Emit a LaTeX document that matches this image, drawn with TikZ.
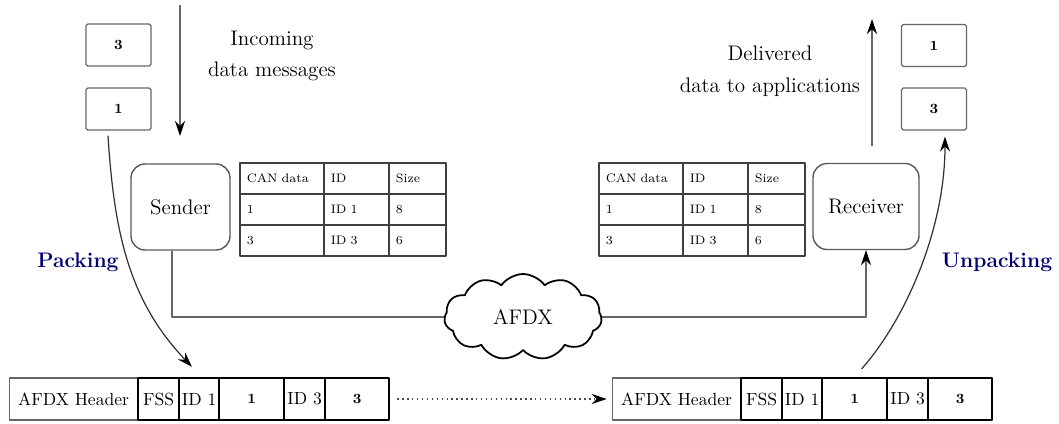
\documentclass[tikz,border=0pt]{standalone}
\usetikzlibrary{arrows.meta,shapes.symbols}
\begin{document}
\begin{tikzpicture}[x=0.02cm,y=-0.02cm,>={Stealth[length=3mm,width=2mm,color=black]},line join=round,
	every node/.style={font=\large},
	msgbox/.style={draw=black!60,line width=0.7pt,rounded corners=1pt,minimum width=1.3cm,minimum height=0.84cm,inner sep=0pt,font=\footnotesize\bfseries},
	endbox/.style={draw=black!65,line width=0.8pt,rounded corners=0.28cm,minimum height=1.72cm,inner sep=0pt},
	cell/.style={draw=black!75,line width=0.9pt,anchor=north west,minimum height=0.62cm,inner xsep=4pt,inner ysep=0pt,align=left,font=\scriptsize},
	hdr/.style={draw=black!60,line width=0.7pt},
	fld/.style={draw=black,line width=1.3pt},
	pay/.style={draw=black,line width=1.3pt,font=\footnotesize\bfseries},
	conn/.style={black!60,line width=0.8pt},
	side/.style={font=\large\bfseries,text=blue!45!black}]
	\useasboundingbox (0,0) rectangle (1059,423);
	\node[msgbox] (msgA) at (118.5,45) {3};
	\node[msgbox] (msgB) at (118.5,109) {1};
	\node[msgbox] (msgC) at (934,45.5) {1};
	\node[msgbox] (msgD) at (934,109) {3};
	\coordinate (intop) at (180,5);
	\coordinate (inbot) at (180,136);
	\coordinate (outbot) at (872,146);
	\coordinate (outtop) at (872,19);
	\draw[conn,->] (intop) -- (inbot);
	\draw[conn,->] (outbot) -- (outtop);
	\node[align=center] (intext) at (272,56) {Incoming\\[4pt]data messages};
	\node[align=center] (outtext) at (770,71) {Delivered\\[4pt]data to applications};
	\node[endbox,minimum width=1.98cm] (sender) at (180.5,207) {Sender};
	\node[endbox,minimum width=2.12cm] (receiver) at (866,206.5) {Receiver};
	\foreach \tx/\nm in {239/stab,598/rtab}{
		\foreach \r/\ca/\cb/\cc in {0/CAN data/ID/Size,1/1/ID 1/8,2/3/ID 3/6}{
			\foreach \c/\ox/\tw/\txt in {1/0/1.4cm/\ca,2/84/1.02cm/\cb,3/149/0.86cm/\cc}{
				\node[cell,text width=\tw] (\nm-\r-\c) at (\tx+\ox,162+31*\r) {\txt};
			}
		}
	}
	\node[cloud,draw,line width=1pt,cloud puffs=11,cloud puff arc=110,aspect=2.2,minimum width=3.15cm,minimum height=1.72cm,inner sep=0pt] (afdx) at (523,317) {AFDX};
	\draw[conn] ([xshift=-0.17cm]sender.south) |- (afdx.west);
	\draw[conn,->] (afdx.east) -| (receiver.south);
	\foreach \fx/\nm in {9/lfr,612/rfr}{
		\foreach \k/\ox/\w/\st/\txt in {1/0/128/hdr/AFDX Header,2/128/41/fld/FSS,3/169/40/fld/ID 1,4/209/65/pay/1,5/274/41/fld/ID 3,6/315/64/pay/3}{
			\node[font=\normalsize,\st,anchor=west,minimum width=\w*0.02cm,minimum height=0.84cm,inner sep=0pt] (\nm-\k) at (\fx+\ox,399) {\txt};
		}
	}
	\draw[dotted,black!70,line width=0.8pt,->,shorten <=4pt,shorten >=3pt] (lfr-6.east) -- (rfr-1.west);
	\node[side] (pack) at (78,262) {Packing};
	\node[side] (unpack) at (997,262) {Unpacking};
	\draw[black!80,line width=0.7pt,->] ([xshift=-0.21cm,yshift=-0.1cm]msgB.south) .. controls (114,230) and (128,300) .. ([xshift=0.28cm,yshift=0.2cm]lfr-3.north west);
	\draw[black!80,line width=0.7pt,->] ([xshift=0.14cm,yshift=0.16cm]rfr-4.north) .. controls (905,320) and (945,230) .. ([xshift=0.22cm,yshift=-0.12cm]msgD.south);
\end{tikzpicture}
\end{document}
